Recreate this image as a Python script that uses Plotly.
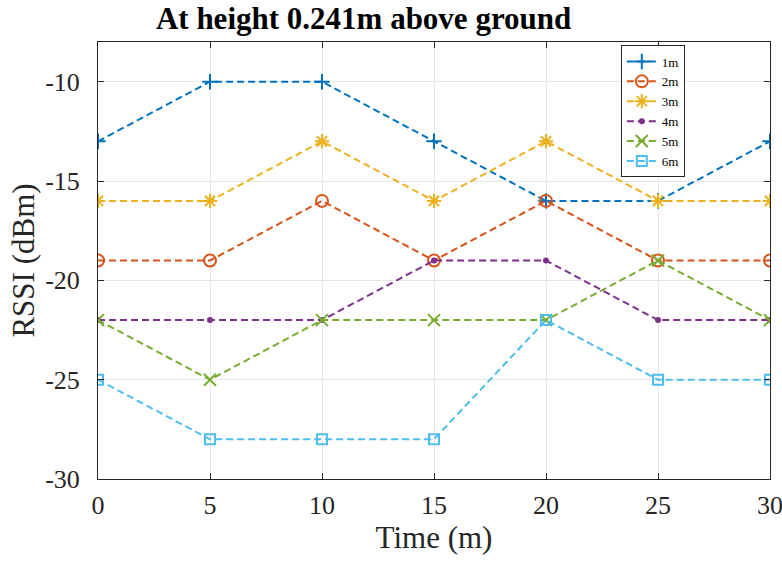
import plotly.graph_objects as go

time_m = [0, 5, 10, 15, 20, 25, 30]
s1 = [-13, -10, -10, -13, -16, -16, -13]
s2 = [-19, -19, -16, -19, -16, -19, -19]
s3 = [-16, -16, -13, -16, -13, -16, -16]
s4 = [-22, -22, -22, -19, -19, -22, -22]
s5 = [-22, -25, -22, -22, -22, -19, -22]
s6 = [-25, -28, -28, -28, -22, -25, -25]
names = ["1m", "2m", "3m", "4m", "5m", "6m"]
series = [s1, s2, s3, s4, s5, s6]
x_ticks = [0, 5, 10, 15, 20, 25, 30]
y_ticks = [-30, -25, -20, -15, -10]
y_ticktext = ["-30", "-25", "-20", "-15", "-10"]

colors = ["#0072BD", "#D95319", "#EDB120", "#7E2F8E", "#77AC30", "#4DBEEE"]
symbols = ["cross-thin-open", "circle-open", "asterisk-open", "circle", "x-thin-open", "square-open"]
sizes = [11, 12, 12, 4, 12, 10]

fig = go.Figure()
for n, s, c, sym, sz in zip(names, series, colors, symbols, sizes):
    fig.add_trace(go.Scatter(
        x=time_m, y=s, name=n, mode="lines+markers",
        line=dict(color=c, width=2, dash="7px,4px"),
        marker=dict(symbol=sym, size=sz, color=c, line=dict(color=c, width=2)),
    ))

axis_common = dict(
    showline=True, linecolor="#262626", linewidth=1, mirror="ticks",
    ticks="inside", ticklen=6, tickcolor="#262626",
    showgrid=True, gridcolor="#E6E6E6", gridwidth=1, zeroline=False,
    automargin=False, ticklabeloverflow="allow",
    tickfont=dict(family="Liberation Serif", size=26, color="#262626"),
)
fig.update_xaxes(range=[0, 30], tickvals=x_ticks, ticklabelstandoff=3,
                 title=dict(text="Time (m)", font=dict(family="Liberation Serif", size=31, color="#262626"), standoff=4),
                 **axis_common)
fig.update_yaxes(range=[-30, -8], tickvals=y_ticks, ticktext=y_ticktext, ticklabelstandoff=12,
                 title=dict(text="RSSI (dBm)", font=dict(family="Liberation Serif", size=31, color="#262626"), standoff=1),
                 **axis_common)

fig.update_layout(
    width=782, height=562,
    margin=dict(l=98, r=12, t=42, b=83),
    plot_bgcolor="white", paper_bgcolor="white",
    title=dict(text="<b>At height 0.241m above ground</b>", x=0.465, xanchor="center", y=0.968, yanchor="middle",
               font=dict(family="Liberation Serif", size=31, color="black")),
    legend=dict(x=0.778, y=0.992, xanchor="left", yanchor="top",
                bgcolor="white", bordercolor="#262626", borderwidth=1,
                font=dict(family="Liberation Serif", size=13, color="black"),
                tracegroupgap=0, itemwidth=30),
    showlegend=True,
)
fig.write_html("out.html", config={"displayModeBar": False},
               post_script="document.body.style.margin='0px';document.body.style.overflow='hidden';")
